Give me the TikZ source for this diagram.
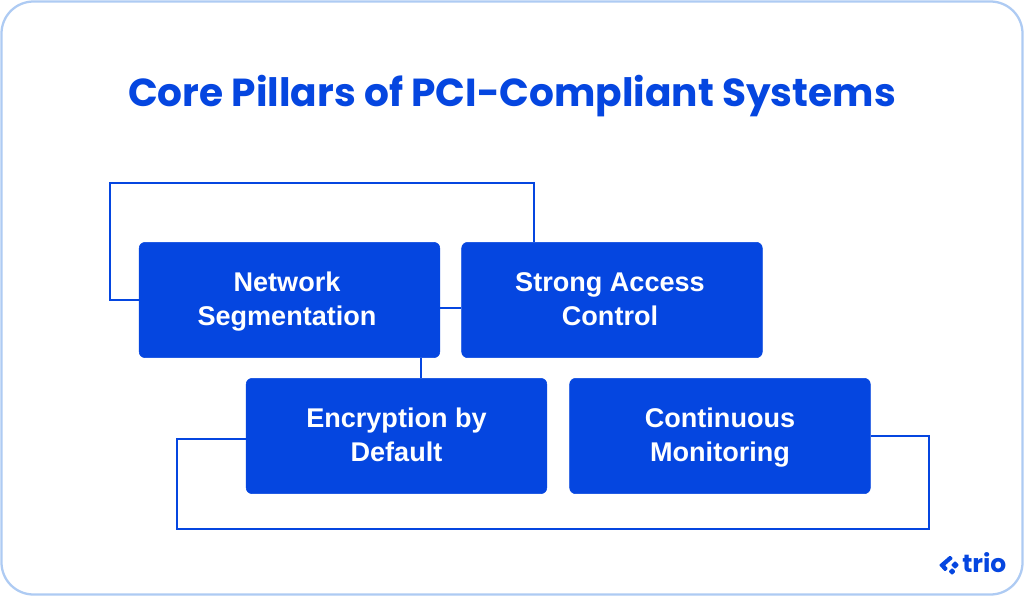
\documentclass[tikz,border=0pt]{standalone}
\usepackage{fontspec}
\setmainfont{Poppins}
\newfontfamily\boxfont{Liberation Sans}
\newcommand\lh{\rule[-6.55pt]{0pt}{25.5pt}}
\newcommand\lf[1]{\hspace*{-#1pt}\lh}
\definecolor{trioblue}{HTML}{0546E0}
\definecolor{framecol}{HTML}{AECBF3}
\tikzset{
  pillar/.style={draw=trioblue,fill=trioblue,rounded corners=4.5pt,minimum width=225.5pt,minimum height=86.5pt,inner sep=0pt,text=white,align=center,font=\fontsize{20.3}{25.5}\boxfont\bfseries},
  link/.style={draw=trioblue,line width=1pt},
}
\begin{document}
\begin{tikzpicture}[x=0.75pt,y=-0.75pt]
\useasboundingbox (0,0) rectangle (1024,596);
\fill[white] (0,0) rectangle (1024,596);
\draw[framecol,line width=1.7pt,rounded corners=24pt] (1.5,1.5) rectangle (1022.5,594.5);
\node[text=trioblue,font=\fontsize{29.3}{32}\selectfont\bfseries,anchor=base] (title) at (512,106) {Core Pillars of PCI-Compliant Systems};
\coordinate (la) at (110,183);
\coordinate (lb) at (534,183);
\coordinate (ab) at (450,308);
\coordinate (ac) at (421,368);
\coordinate (lc) at (177,529);
\coordinate (ld) at (929,529);
\coordinate (cw) at (177,439);
\coordinate (de) at (929,436);
\node[pillar] (a) at (289.5,300) {\lf{3.75}Network\\\lf{3.75}Segmentation};
\node[pillar] (b) at (612,300) {\lf{3}Strong Access\\\lf{3}Control};
\node[pillar] (c) at (396.5,436) {\lh Encryption by\\\lh Default};
\node[pillar] (d) at (720,436) {\lh Continuous\\\lh Monitoring};
\draw[link] (a.west) -| (la) -- (lb) -- (lb |- b.north);
\draw[link] (a.east |- ab) -- (b.west |- ab);
\draw[link] (ac |- a.south) -- (ac |- c.north);
\draw[link] (c.west |- cw) -- (cw) -- (lc) -- (ld) -- (de) -- (d.east |- de);
% trio logo
\fill[trioblue,rounded corners=0.6pt] (939,565) -- (950,555.5) -- (953,558.5) -- (945,565.5) -- (948,568.5) -- (945,571.5) -- cycle;
\fill[trioblue,rounded corners=0.6pt] (955,561) -- (959,565) -- (955,569) -- (951,565) -- cycle;
\fill[trioblue,rounded corners=0.6pt] (948.5,571.5) -- (952,568) -- (955.5,571.5) -- (952,575) -- cycle;
\node[text=trioblue,font=\fontsize{18.7}{18.7}\selectfont\bfseries,inner sep=0pt,anchor=base west] (logo) at (962,572) {trio};
\end{tikzpicture}
\end{document}
